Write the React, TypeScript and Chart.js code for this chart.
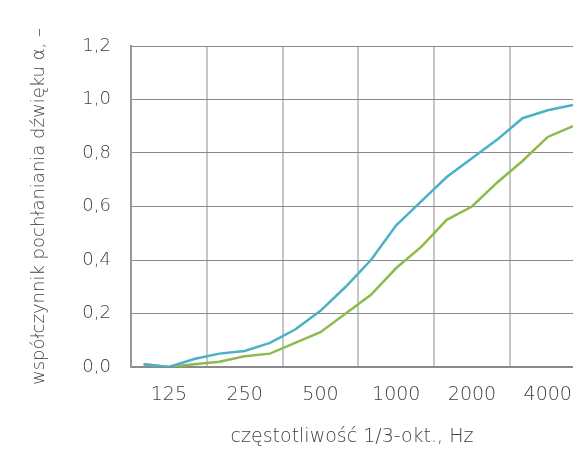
import { Chart, registerables } from "chart.js";
import { useEffect, useRef } from "react";

Chart.register(...registerables);

// 1/3-octave band centre frequencies, Hz
const frequencies = [
  100, 125, 160, 200, 250, 315, 400, 500, 630, 800, 1000, 1250, 1600, 2000,
  2500, 3150, 4000, 5000,
];
const octaveLabels = ["125", "250", "500", "1000", "2000", "4000"];

const blueSeries = [
  0.01, 0.0, 0.03, 0.05, 0.06, 0.09, 0.14, 0.21, 0.3, 0.4, 0.53, 0.62, 0.71,
  0.78, 0.85, 0.93, 0.96, 0.98,
];
const greenSeries = [
  0.01, 0.0, 0.01, 0.02, 0.04, 0.05, 0.09, 0.13, 0.2, 0.27, 0.37, 0.45, 0.55,
  0.6, 0.69, 0.77, 0.86, 0.9,
];

const yTicks = [0, 0.2, 0.4, 0.6, 0.8, 1.0, 1.2];

const FONT = "'DejaVu Sans', sans-serif";
const TEXT = "#404040";

const App = () => {
  const canvasRef = useRef<HTMLCanvasElement>(null);
  const chartRef = useRef<Chart | null>(null);

  useEffect(() => {
    document.body.style.margin = "0";
    if (!canvasRef.current) return;
    chartRef.current?.destroy();

    const toPoints = (vals: number[]) =>
      vals.map((v, i) => ({ x: i, y: v }));

    chartRef.current = new Chart(canvasRef.current, {
      type: "line",
      data: {
        datasets: [
          {
            label: "A",
            data: toPoints(blueSeries),
            borderColor: "#4bb0c8",
            borderWidth: 2.5,
            pointRadius: 0,
            tension: 0,
          },
          {
            label: "B",
            data: toPoints(greenSeries),
            borderColor: "#8dbb4b",
            borderWidth: 2.5,
            pointRadius: 0,
            tension: 0,
          },
        ],
      },
      options: {
        animation: false,
        responsive: true,
        maintainAspectRatio: false,
        layout: { padding: { top: 46, right: 0, left: 0, bottom: 0 } },
        plugins: {
          legend: { display: false },
          tooltip: { enabled: false },
        },
        scales: {
          x: {
            type: "linear",
            min: -0.5,
            max: frequencies.length - 1,
            afterBuildTicks: (scale) => {
              scale.ticks = octaveLabels.map((_, i) => ({ value: -0.5 + i * 3 }));
            },
            afterFit: (scale) => {
              scale.height = 85;
            },
            grid: {
              color: "#c6c6c6",
              lineWidth: 2,
              drawTicks: false,
            },
            border: { color: "#8a8a8a", width: 2 },
            ticks: {
              autoSkip: false,
              maxRotation: 0,
              padding: 17,
              labelOffset: 37.9,
              color: TEXT,
              font: { family: FONT, size: 19, weight: 200 },
              callback: (_v, i) => octaveLabels[i],
            },
            title: {
              display: true,
              text: "częstotliwość 1/3-okt., Hz",
              color: TEXT,
              font: { family: FONT, size: 19, weight: 200, lineHeight: 1.2 },
              padding: { top: 0, bottom: 4 },
            },
          },
          y: {
            min: 0,
            max: 1.2,
            afterBuildTicks: (scale) => {
              scale.ticks = yTicks.map((v) => ({ value: v }));
            },
            afterFit: (scale) => {
              scale.width = 131;
            },
            grid: {
              color: "#8a8a8a",
              lineWidth: 1,
              drawTicks: false,
            },
            border: { color: "#999999", width: 2 },
            ticks: {
              padding: 20,
              color: TEXT,
              font: { family: FONT, size: 18, weight: 200 },
              callback: (v) => Number(v).toFixed(1).replace(".", ","),
            },
            title: {
              display: true,
              text: "współczynnik pochłaniania dźwięku α, –",
              color: TEXT,
              font: { family: FONT, size: 18, weight: 200, lineHeight: 1.2 },
              padding: { top: 29, bottom: 0 },
            },
          },
        },
      },
    });

    return () => {
      chartRef.current?.destroy();
    };
  }, []);

  return (
    <div style={{ position: "fixed", left: 0, top: 0, width: 573, height: 452 }}>
      <canvas ref={canvasRef} />
    </div>
  );
};

export default App;
